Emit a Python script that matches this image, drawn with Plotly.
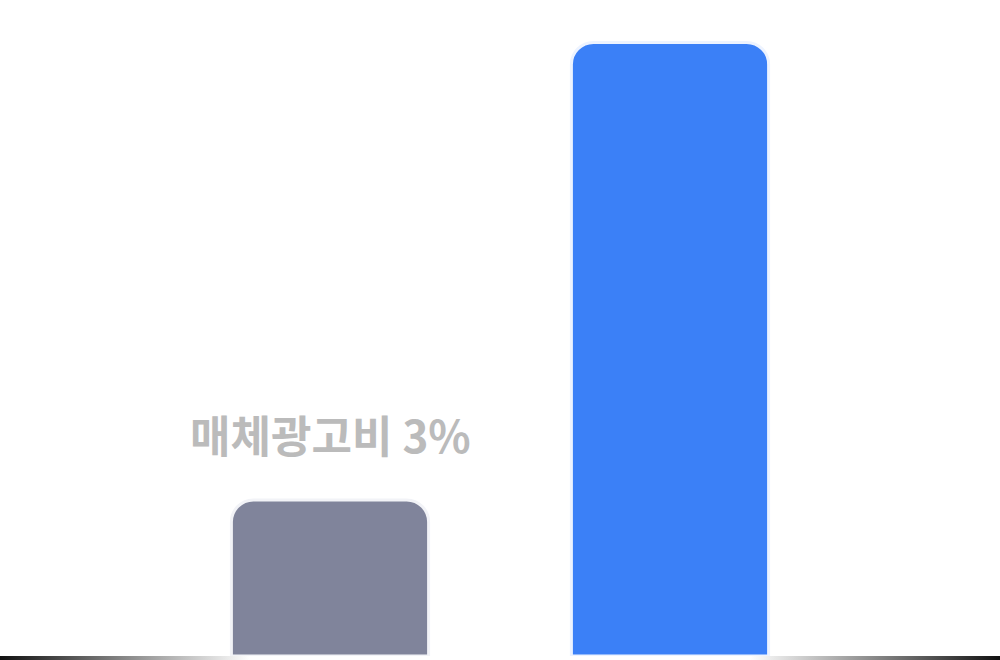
import plotly.graph_objects as go

categories = ["매체광고비", "기타"]
values = [3, 11.8]
labels = ["매체광고비 3%", ""]
bar_colors = ["#80849b", "#3b80f7"]
edge_colors = ["#f2f3f7", "#edf3ff"]

x_range = [-0.9706, 1.9706]
y_range = [-0.077, 12.615]

fig = go.Figure()

fig.add_trace(
    go.Bar(
        x=categories,
        y=values,
        width=0.58,
        marker=dict(color=bar_colors, line=dict(color=edge_colors, width=3), cornerradius=22),
        hoverinfo="skip",
    )
)

# baseline strip fading towards the middle
fig.add_trace(
    go.Scatter(
        x=[x_range[0], x_range[1], x_range[1], x_range[0], x_range[0]],
        y=[0, 0, 1, 1, 0],
        xaxis="x2",
        yaxis="y2",
        mode="lines",
        line=dict(width=0),
        fill="toself",
        fillgradient=dict(
            type="horizontal",
            colorscale=[
                [0, "#111111"],
                [0.25, "#ffffff"],
                [0.75, "#ffffff"],
                [1, "#111111"],
            ],
        ),
        hoverinfo="skip",
    )
)

for cat, val, txt in zip(categories, values, labels):
    if txt:
        fig.add_annotation(
            x=cat,
            y=val,
            text=txt,
            showarrow=False,
            yanchor="bottom",
            yshift=32,
            font=dict(family="Noto Sans CJK KR", size=44, color="#bbbbbb", weight="bold"),
        )

fig.update_layout(
    width=1000,
    height=660,
    margin=dict(l=0, r=0, t=0, b=0),
    paper_bgcolor="white",
    plot_bgcolor="white",
    showlegend=False,
    xaxis=dict(range=x_range, visible=False, fixedrange=True),
    yaxis=dict(range=y_range, visible=False, fixedrange=True),
    xaxis2=dict(range=x_range, visible=False, overlaying="x", fixedrange=True),
    yaxis2=dict(range=[0, 1], visible=False, domain=[0, 4 / 660], anchor="x2", fixedrange=True),
)

fig.write_html(
    "out.html",
    config={"displayModeBar": False},
    post_script="document.body.style.margin='0';",
)
